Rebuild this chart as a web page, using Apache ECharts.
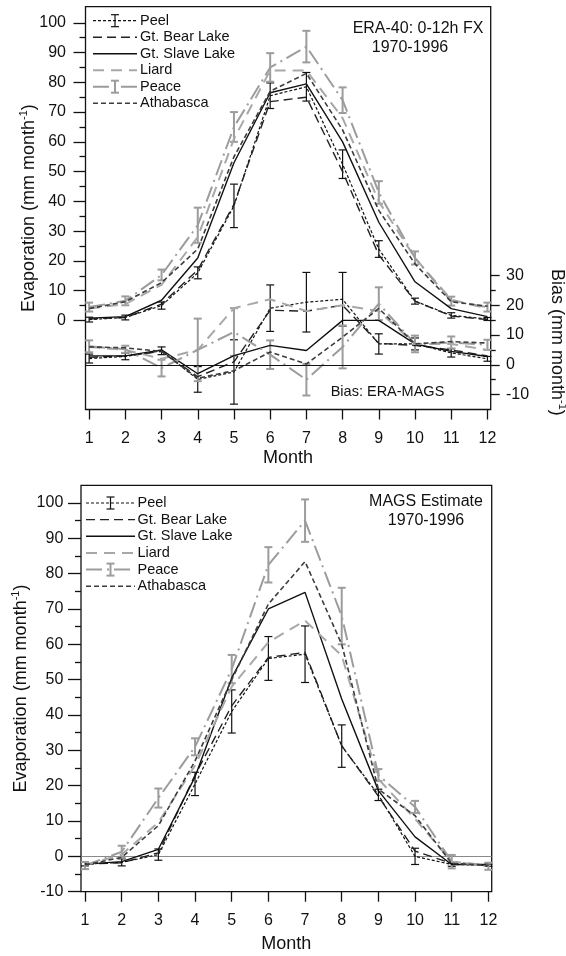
<!DOCTYPE html>
<html>
<head>
<meta charset="utf-8">
<script src="https://cdn.jsdelivr.net/npm/echarts@6/dist/echarts.min.js"></script>
<style>
html, body { margin: 0; padding: 0; background: #fff; }
#chart { width: 566px; height: 956px; }
</style>
</head>
<body>
<div id="chart"></div>
<script>
var months = [1, 2, 3, 4, 5, 6, 7, 8, 9, 10, 11, 12];
var basins = ['Peel', 'Gt. Bear Lake', 'Gt. Slave Lake', 'Liard', 'Peace', 'Athabasca'];

// tick labels
var evapTicks = [0, 10, 20, 30, 40, 50, 60, 70, 80, 90, 100];
var evapMinor = [5, 15, 25, 35, 45, 55, 65, 75, 85, 95];
var biasTicks = [-10, 0, 10, 20, 30];
var biasMinor = [-5, 5, 15, 25];
var magsTicks = [-10, 0, 10, 20, 30, 40, 50, 60, 70, 80, 90, 100];
var magsMinor = [-5, 5, 15, 25, 35, 45, 55, 65, 75, 85, 95];

// ERA-40 evaporation (mm/month)
var eraPeel     = [0.3, 1.0, 5.0, 16.0, 38.5, 75.5, 78.5, 52.5, 24.0, 6.5, 1.7, 0.5];
var eraPeelErr  = [0.8, 0.8, 1.2, 2.0, 7.3, 4.3, 4.8, 4.8, 2.8, 1.0, 0.9, 0.5];
var eraBear     = [0.5, 1.0, 5.5, 17.0, 39.0, 73.5, 75.0, 50.0, 22.0, 6.5, 1.5, 0.3];
var eraSlave    = [0.8, 1.3, 6.8, 21.0, 53.0, 76.5, 79.5, 60.0, 33.0, 13.0, 4.0, 1.3];
var eraLiard    = [4.0, 5.5, 12.0, 28.0, 61.0, 84.0, 84.0, 68.0, 40.0, 21.0, 7.0, 4.0];
var eraPeace    = [4.5, 6.6, 15.3, 32.0, 65.0, 85.0, 92.0, 74.0, 43.0, 21.0, 6.5, 4.5];
var eraPeaceErr = [1.5, 1.5, 1.8, 5.9, 5.0, 4.8, 5.3, 4.3, 3.8, 2.2, 1.5, 1.5];
var eraAthab    = [4.0, 6.3, 12.7, 24.0, 55.0, 77.0, 83.0, 64.0, 37.0, 19.0, 6.3, 4.8];

// bias ERA-MAGS (mm/month)
var biasPeel     = [2.1, 2.8, 4.7, -4.9, -2.4, 19.0, 21.0, 22.0, 7.0, 7.0, 4.0, 2.0];
var biasPeelErr  = [1.5, 1.1, 1.3, 4.3, 10.8, 7.8, 10.0, 9.0, 3.4, 2.0, 1.4, 0.8];
var biasBear     = [2.5, 3.0, 4.5, -4.0, 1.0, 18.3, 18.0, 20.0, 7.2, 6.5, 5.0, 3.0];
var biasSlave    = [3.0, 3.0, 5.0, -3.0, 3.1, 6.5, 4.8, 14.9, 14.9, 7.0, 4.5, 2.8];
var biasLiard    = [6.0, 5.0, 2.0, 5.0, 19.0, 22.0, 18.0, 20.0, 18.0, 7.0, 7.0, 5.0];
var biasPeace    = [6.2, 5.2, -1.1, 5.0, 11.0, 3.4, -5.0, 6.0, 20.5, 7.0, 7.5, 6.7];
var biasPeaceErr = [2.0, 1.2, 2.8, 10.5, 8.0, 4.8, 5.3, 7.2, 5.5, 2.8, 2.0, 1.7];
var biasAthab    = [6.0, 5.7, 4.5, -4.5, -2.0, 4.3, 0.3, 9.3, 18.9, 7.0, 7.8, 7.3];

// MAGS estimate (mm/month)
var magsPeel     = [-2.2, -1.7, 0.5, 20.5, 41.0, 56.0, 57.2, 31.2, 17.4, 0.0, -2.3, -2.5];
var magsPeelErr  = [0.5, 1.0, 1.6, 3.3, 6.1, 6.2, 8.0, 6.0, 1.6, 2.3, 0.5, 0.3];
var magsBear     = [-2.2, -1.8, 1.0, 23.0, 42.6, 56.3, 57.7, 31.3, 17.0, 1.5, -2.0, -2.5];
var magsSlave    = [-2.2, -1.5, 2.0, 22.5, 50.5, 70.0, 74.7, 44.5, 18.6, 5.5, -2.3, -2.3];
var magsLiard    = [-2.5, 0.5, 9.6, 25.7, 48.0, 60.6, 66.7, 56.8, 21.9, 10.6, -1.5, -2.5];
var magsPeace    = [-2.6, 1.3, 16.5, 31.0, 53.0, 82.5, 95.0, 68.0, 23.0, 14.0, -1.5, -2.8];
var magsPeaceErr = [1.0, 1.7, 2.7, 2.4, 4.0, 5.0, 6.0, 8.0, 1.7, 1.7, 1.9, 1.0];
var magsAthab    = [-2.4, -0.3, 8.7, 27.0, 50.0, 71.4, 83.4, 60.0, 19.0, 11.5, -2.0, -2.5];

var FONT = '"Liberation Sans", Arial, sans-serif';
var INK = '#111';

// one style per basin, same order as basins
var styles = [
    {color: '#111', width: 1.2, dash: [3, 2]},
    {color: '#222', width: 1.4, dash: [9, 5]},
    {color: '#111', width: 1.4, dash: 'solid'},
    {color: '#a8a8a8', width: 2, dash: [11, 7]},
    {color: '#9c9c9c', width: 2, dash: [16, 5, 2, 5]},
    {color: '#3c3c3c', width: 1.6, dash: [5, 3]}
];

function lineSeries(i, vals, xi, yi) {
    var s = styles[i];
    return {
        type: 'line', name: basins[i], xAxisIndex: xi, yAxisIndex: yi,
        data: months.map(function(m, k) { return [m, vals[k]]; }),
        symbol: 'none', clip: false, silent: true,
        lineStyle: {color: s.color, width: s.width, type: s.dash}
    };
}

function errSeries(vals, errs, color, width, xi, yi) {
    return {
        type: 'custom', xAxisIndex: xi, yAxisIndex: yi, silent: true,
        data: months.map(function(m, k) { return [m, vals[k] - errs[k], vals[k] + errs[k]]; }),
        encode: {x: 0, y: [1, 2]},
        renderItem: function(params, api) {
            var lo = api.coord([api.value(0), api.value(1)]);
            var hi = api.coord([api.value(0), api.value(2)]);
            var h = 4;
            var st = {stroke: color, lineWidth: width};
            return {type: 'group', children: [
                {type: 'line', shape: {x1: lo[0], y1: lo[1], x2: hi[0], y2: hi[1]}, style: st},
                {type: 'line', shape: {x1: lo[0] - h, y1: lo[1], x2: lo[0] + h, y2: lo[1]}, style: st},
                {type: 'line', shape: {x1: hi[0] - h, y1: hi[1], x2: hi[0] + h, y2: hi[1]}, style: st}
            ]};
        }
    };
}

function zeroLine(color) {
    return {silent: true, symbol: 'none', label: {show: false},
        lineStyle: {color: color, width: 1.2, type: 'solid'}, data: [{yAxis: 0}]};
}

// legend drawn by hand so the dash patterns and error-bar glyphs show
function legendGraphic(x0, x1, tx, y0, step) {
    var out = [];
    basins.forEach(function(name, i) {
        var s = styles[i], y = y0 + i * step;
        out.push({type: 'line', shape: {x1: x0, y1: y, x2: x1, y2: y},
            style: {stroke: s.color, lineWidth: s.width, lineDash: s.dash === 'solid' ? null : s.dash}});
        if (i === 0 || i === 4) {
            var cx = (x0 + x1) / 2, c = s.color, w = i === 4 ? 2 : 1.2;
            out.push({type: 'line', shape: {x1: cx, y1: y - 6, x2: cx, y2: y + 6}, style: {stroke: c, lineWidth: w}});
            out.push({type: 'line', shape: {x1: cx - 4, y1: y - 6, x2: cx + 4, y2: y - 6}, style: {stroke: c, lineWidth: w}});
            out.push({type: 'line', shape: {x1: cx - 4, y1: y + 6, x2: cx + 4, y2: y + 6}, style: {stroke: c, lineWidth: w}});
        }
        out.push({type: 'text', x: tx, y: y,
            style: {text: name, font: '14.5px ' + FONT, fill: INK, verticalAlign: 'middle'}});
    });
    return out;
}

function note(text, x, y, size) {
    return {type: 'text', x: x, y: y,
        style: {text: text, font: size + 'px ' + FONT, fill: INK, align: 'center', verticalAlign: 'middle'}};
}

var supRich = {sup: {fontSize: 11, fontFamily: FONT, color: INK, verticalAlign: 'top', lineHeight: 12}};

function monthAxis(grid, min, max, gap) {
    return {
        type: 'value', gridIndex: grid, min: min, max: max, position: 'bottom',
        axisLine: {show: false, onZero: false}, splitLine: {show: false},
        axisTick: {show: true, length: 10, customValues: months, lineStyle: {color: INK, width: 1.3}},
        axisLabel: {customValues: months, fontSize: 16, fontFamily: FONT, color: INK, margin: 20, lineHeight: 18},
        name: 'Month', nameLocation: 'middle', nameGap: gap, nameMoveOverlap: false,
        nameTextStyle: {fontSize: 18, fontFamily: FONT, color: INK, lineHeight: 20}
    };
}

function valueAxis(grid, pos, min, max, ticks, len, margin, name, gap) {
    var ax = {
        type: 'value', gridIndex: grid, position: pos, min: min, max: max,
        axisLine: {show: false, onZero: false}, splitLine: {show: false},
        axisTick: {show: true, length: len, customValues: ticks, lineStyle: {color: INK, width: 1.3}},
        axisLabel: {show: margin != null, customValues: ticks, fontSize: 16, fontFamily: FONT, color: INK, margin: margin || 8}
    };
    if (name) {
        ax.name = name;
        ax.nameLocation = 'middle';
        ax.nameGap = gap;
        ax.nameRotate = pos === 'left' ? 90 : -90;
        ax.nameMoveOverlap = false;
        ax.nameTextStyle = {fontSize: 18, fontFamily: FONT, color: INK, lineHeight: 22, rich: supRich};
    }
    return ax;
}

var evapName = 'Evaporation (mm month{sup|-1})';
var biasName = 'Bias (mm month{sup|-1})';

var series = [];
// top panel: ERA-40 evaporation
[eraPeel, eraBear, eraSlave, eraLiard, eraPeace, eraAthab].forEach(function(v, i) {
    series.push(lineSeries(i, v, 0, 0));
});
series.push(errSeries(eraPeel, eraPeelErr, styles[0].color, 1.2, 0, 0));
series.push(errSeries(eraPeace, eraPeaceErr, styles[4].color, 2, 0, 0));

// top panel: bias, with its zero line
var biasLines = [biasPeel, biasBear, biasSlave, biasLiard, biasPeace, biasAthab].map(function(v, i) {
    return lineSeries(i, v, 1, 2);
});
biasLines[2].markLine = zeroLine(INK);
series = series.concat(biasLines);
series.push(errSeries(biasPeel, biasPeelErr, styles[0].color, 1.2, 1, 2));
series.push(errSeries(biasPeace, biasPeaceErr, styles[4].color, 2, 1, 2));

// bottom panel: MAGS estimate, with its grey zero line
var magsLines = [magsPeel, magsBear, magsSlave, magsLiard, magsPeace, magsAthab].map(function(v, i) {
    return lineSeries(i, v, 2, 4);
});
magsLines[2].markLine = zeroLine('#8a8a8a');
magsLines[2].markLine.z = 1;
series = series.concat(magsLines);
series.push(errSeries(magsPeel, magsPeelErr, styles[0].color, 1.2, 2, 4));
series.push(errSeries(magsPeace, magsPeaceErr, styles[4].color, 2, 2, 4));

var chart = echarts.init(document.getElementById('chart'), null, {renderer: 'canvas'});
chart.setOption({
    animation: false,
    backgroundColor: '#fff',
    grid: [
        {left: 85.5, top: 6.7, right: 75.3, bottom: 546.5, show: true, borderColor: INK, borderWidth: 1.3, outerBoundsMode: 'none'},
        {left: 85.5, top: 275.4, right: 75.3, bottom: 546.5, show: false, outerBoundsMode: 'none'},
        {left: 81, top: 485.3, right: 74.3, bottom: 64.3, show: true, borderColor: INK, borderWidth: 1.3, outerBoundsMode: 'none'}
    ],
    xAxis: [
        monthAxis(0, 0.9, 12.09, 38.5),
        {type: 'value', gridIndex: 1, min: 0.9, max: 12.09, show: false},
        monthAxis(2, 0.89, 12.09, 42)
    ],
    yAxis: [
        valueAxis(0, 'left', -29.9, 105.4, evapTicks, 12, 19.5, evapName, 45.5),
        valueAxis(0, 'left', -29.9, 105.4, evapMinor, 6, null),
        valueAxis(1, 'right', -15, 30, biasTicks, 9, 15.3, biasName, 55),
        valueAxis(1, 'right', -15, 30, biasMinor, 5, null),
        valueAxis(2, 'left', -10, 105, magsTicks, 13, 17.7, evapName, 49),
        valueAxis(2, 'left', -10, 105, magsMinor, 6, null)
    ],
    graphic: legendGraphic(93, 137, 140, 20.7, 16.5)
        .concat(legendGraphic(86, 135, 137.5, 503, 16.65))
        .concat([
            note('ERA-40: 0-12h FX', 418, 29, 16),
            note('1970-1996', 410, 48, 16),
            note('Bias: ERA-MAGS', 387.5, 391.7, 14.5),
            note('MAGS Estimate', 426, 502, 16),
            note('1970-1996', 426, 521, 16)
        ]),
    series: series
});
</script>
</body>
</html>
